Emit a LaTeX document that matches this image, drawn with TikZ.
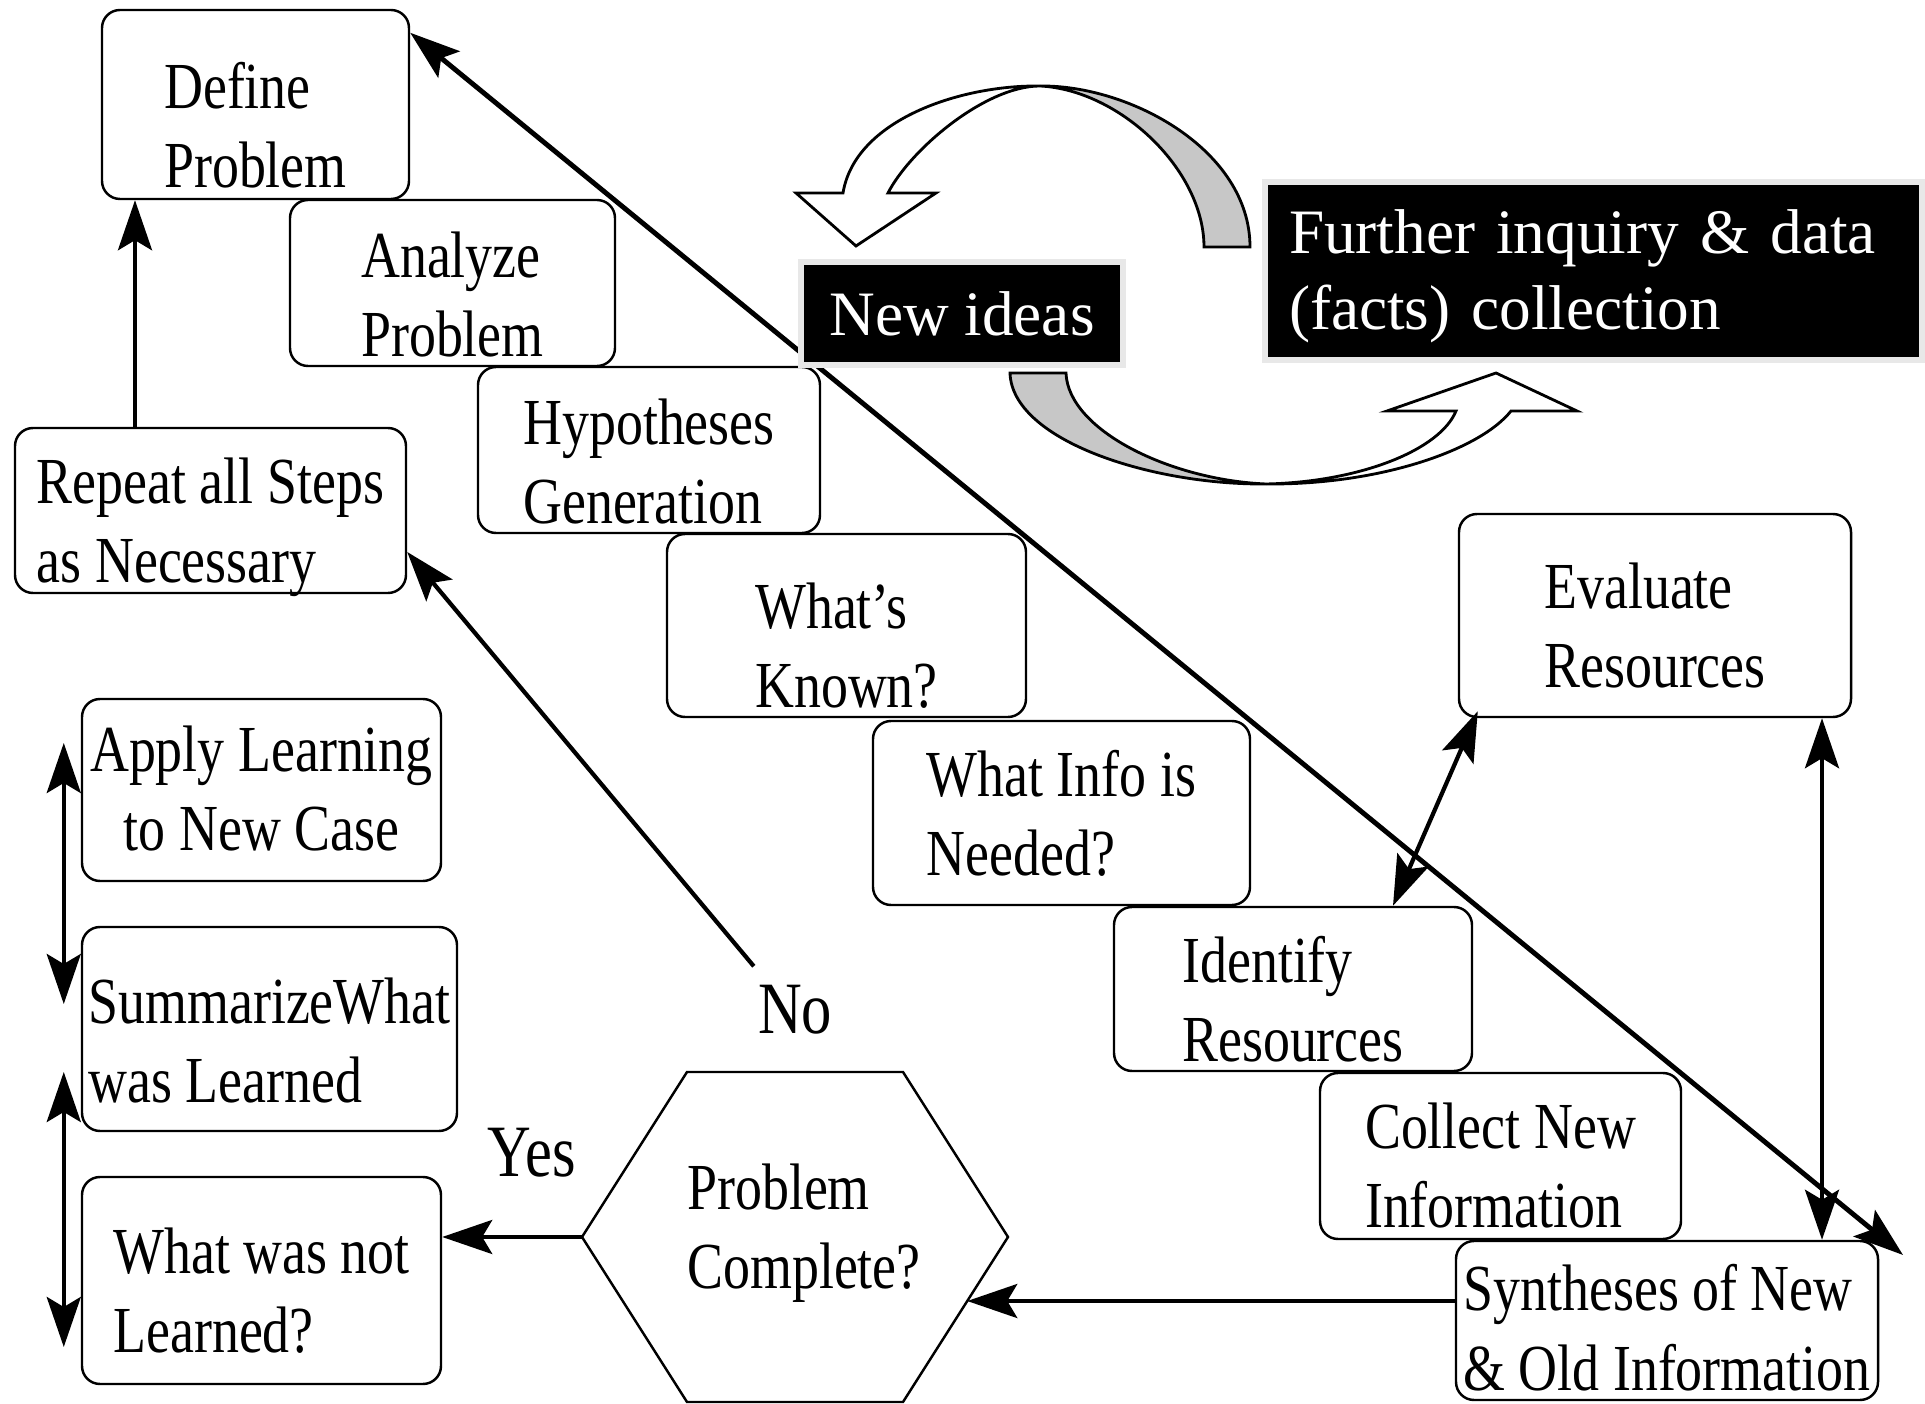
\documentclass[tikz,border=0pt]{standalone}
\usepackage{fontspec}
\setmainfont{Liberation Serif}
\newfontfamily\stepfont[FakeStretch=0.82]{Liberation Serif}
\usetikzlibrary{arrows.meta, calc}

\begin{document}
\begin{tikzpicture}[>={Stealth[length=5mm, width=3.4mm, inset=1mm]},
    stepbox/.style={draw, fill=white, rounded corners=1.8mm, line width=0.7pt, align=left, inner sep=0pt,
      font=\stepfont\fontsize{18.7}{22.5}\selectfont},
    tshift/.style={text height=#1, text depth=0pt},
    lbl/.style={font=\stepfont\fontsize{21}{25}\selectfont, inner sep=1pt},
    blackbox/.style={fill=black, draw=black!9, line width=0.06cm, text=white, inner sep=0pt,
      font=\fontsize{18}{21.4}\selectfont},
    arr/.style={->, line width=1.2pt},
    dbl/.style={<->, line width=1.2pt},
    ribbon/.style={draw, line width=0.8pt, line join=miter}]
  \useasboundingbox (0,0) rectangle (19.25,-14.04);

  % the staircase of steps
  \node[stepbox, tshift=1.66cm, minimum width=3.07cm, minimum height=1.89cm] (def) at (2.555,-1.045) {Define\\Problem};
  \node[stepbox, tshift=1.48cm, minimum width=3.25cm, minimum height=1.66cm] (ana) at (4.525,-2.83) {Analyze\\Problem};
  \node[stepbox, tshift=1.48cm, minimum width=3.42cm, minimum height=1.66cm] (hyp) at (6.49,-4.50) {Hypotheses\\Generation};
  \node[stepbox, tshift=1.65cm, minimum width=3.59cm, minimum height=1.83cm] (kno) at (8.465,-6.255) {What’s\\Known?};
  \node[stepbox, tshift=1.25cm, minimum width=3.77cm, minimum height=1.84cm] (nee) at (10.615,-8.13) {What Info is\\Needed?};
  \node[stepbox, tshift=1.45cm, minimum width=3.58cm, minimum height=1.64cm] (ide) at (12.93,-9.89) {Identify\\Resources};
  \node[stepbox, tshift=1.43cm, minimum width=3.61cm, minimum height=1.66cm] (col) at (15.005,-11.56) {Collect New\\Information};
  \node[stepbox, tshift=1.39cm, minimum width=4.22cm, minimum height=1.59cm] (syn) at (16.67,-13.205) {Syntheses of New\\\& Old Information};
  \node[stepbox, tshift=1.45cm, minimum width=3.92cm, minimum height=2.03cm] (eva) at (16.55,-6.155) {Evaluate\\Resources};

  % left column
  \node[stepbox, tshift=1.45cm, minimum width=3.91cm, minimum height=1.65cm] (rep) at (2.105,-5.105) {Repeat all Steps\\as Necessary};
  \node[stepbox, tshift=1.21cm, align=center, minimum width=3.59cm, minimum height=1.82cm] (app) at (2.615,-7.90) {Apply Learning\\to New Case};
  \node[stepbox, tshift=1.47cm, minimum width=3.75cm, minimum height=2.04cm] (sum) at (2.695,-10.29) {SummarizeWhat\\was Learned};
  \node[stepbox, tshift=1.45cm, minimum width=3.59cm, minimum height=2.07cm] (not) at (2.615,-12.805) {What was not\\Learned?};

  % decision hexagon
  \coordinate (hxL)  at (5.82,-12.37);
  \coordinate (hxTL) at (6.87,-10.72);
  \coordinate (hxTR) at (9.03,-10.72);
  \coordinate (hxR)  at (10.08,-12.37);
  \coordinate (hxBR) at (9.03,-14.02);
  \coordinate (hxBL) at (6.87,-14.02);
  \draw[line width=0.7pt] (hxL) -- (hxTL) -- (hxTR) -- (hxR) -- (hxBR) -- (hxBL) -- cycle;
  \node[font=\stepfont\fontsize{18.7}{22.5}\selectfont, tshift=1.03cm, align=left, inner sep=0pt] (pc) at (8.04,-12.37) {Problem\\Complete?};
  \node[lbl] (yes) at (5.32,-11.53) {Yes};
  \node[lbl] (no) at (7.95,-10.10) {No};

  % connectors
  \draw[arr] ([xshift=-0.755cm]rep.north) -- ([xshift=-0.755cm]rep.north |- def.south);
  \draw[arr] ([yshift=0.15cm]no.north west) -- ([yshift=-0.415cm]rep.east);
  \coordinate (hxM) at ($(hxR)!0.388!(hxBR)$);
  \draw[arr] (syn.west |- hxM) -- (hxM);
  \draw[arr] (hxL) -- (hxL -| not.east);
  \draw[dbl] ([xshift=1.0cm]ide.north) -- ([shift={(0.2cm,0.07cm)}]eva.south west);
  \draw[dbl] ([xshift=1.67cm]eva.south) -- ([xshift=1.67cm]eva.south |- syn.north);
  \draw[dbl] ([shift={(-0.17cm,0.47cm)}]app.west) -- ([shift={(-0.17cm,0.25cm)}]sum.west);
  \draw[dbl] ([shift={(-0.17cm,-0.43cm)}]sum.west) -- ([shift={(-0.17cm,-0.665cm)}]not.west);
  \coordinate (tipSE) at (19.03,-12.55);
  \draw[dbl, line width=1.4pt] ([yshift=-0.24cm]def.north east) -- (tipSE);

  % curved ribbon arrows
  \draw[ribbon, fill=white] (8.43,-1.93) -- (7.96,-1.93) -- (8.56,-2.46) -- (9.36,-1.93) -- (8.88,-1.93)
    .. controls (9.10,-1.50) and (9.85,-0.86) .. (10.40,-0.86)
    .. controls (9.60,-0.85) and (8.55,-1.20) .. cycle;
  \draw[ribbon, fill=black!22] (10.40,-0.86) .. controls (11.30,-0.85) and (12.50,-1.50) .. (12.50,-2.47)
    -- (12.04,-2.47) .. controls (12.04,-1.70) and (11.20,-0.90) .. cycle;
  \draw[ribbon, fill=black!22] (10.10,-3.73) .. controls (10.12,-4.40) and (11.50,-4.85) .. (12.66,-4.84)
    .. controls (11.70,-4.80) and (10.68,-4.30) .. (10.66,-3.73) -- cycle;
  \draw[ribbon, fill=white] (12.66,-4.84) .. controls (13.80,-4.85) and (14.80,-4.50) .. (15.11,-4.11)
    -- (15.77,-4.11) -- (14.96,-3.73) -- (13.87,-4.11) -- (14.56,-4.11)
    .. controls (14.40,-4.50) and (13.60,-4.82) .. cycle;

  % black labels
  \node[blackbox, minimum width=3.22cm, minimum height=1.03cm] (ideas) at (9.62,-3.135) {New ideas};
  \node[blackbox, text height=0pt, text depth=0.34cm, text width=6.09cm, align=left, inner xsep=0.24cm,
    minimum height=1.78cm] (inq) at (15.935,-2.71) {Further inquiry \& data\\(facts) collection};
\end{tikzpicture}
\end{document}
